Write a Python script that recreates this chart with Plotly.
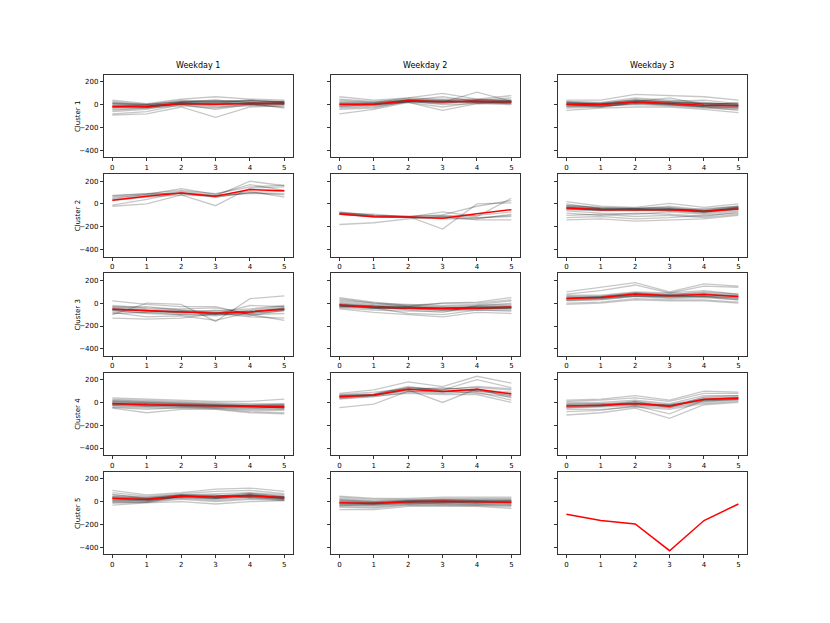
import plotly.graph_objects as go

x_vals = [0, 1, 2, 3, 4, 5]
weekday_labels = ["Weekday 1", "Weekday 2", "Weekday 3"]
cluster_labels = ["Cluster 1", "Cluster 2", "Cluster 3", "Cluster 4", "Cluster 5"]
y_tick_vals = [-400, -200, 0, 200]

# ---- Cluster 1 ----
w1_c1_lines = [
    [-90, -80, -20, -110, -20, -10], [-80, -60, 0, -40, 0, 0], [40, 10, 50, 70, 50, 40],
    [30, 0, 40, 30, 40, 30], [-60, -40, 10, 20, 10, 20], [-40, -30, 20, 40, 20, 10],
    [20, -10, 30, 20, 40, 20], [10, -20, 10, 10, 10, 10], [0, -10, 0, 0, 20, 30],
    [-20, -20, 10, -10, 0, -20], [-30, -20, 20, 10, 30, 20], [-10, 0, 0, -20, -10, 0],
    [-50, -30, -10, -30, 10, -30], [10, 0, 30, 40, 20, 20], [-20, -10, 20, 30, 0, 10],
    [-5, -25, 5, 0, 15, 5], [15, 5, 25, 25, 35, 25], [-25, -15, 15, 5, 5, 15],
]
w1_c1_mean = [-15, -15, 10, 5, 10, 10]

w2_c1_lines = [
    [-80, -40, 20, -50, 10, 0], [70, 40, 60, 100, 50, 80], [-40, -30, 30, 20, 110, 30],
    [50, 30, 50, 40, 40, 60], [30, 20, 40, 30, 30, 40], [20, 10, 40, 20, 30, 20],
    [-10, 0, 30, 30, 20, 10], [0, 0, 30, 10, 40, 30], [10, 10, 40, 70, 30, 20],
    [-20, -10, 20, -20, 20, 10], [-30, -20, 30, 0, 10, 20], [40, 20, 60, 50, 50, 40],
    [-5, 5, 35, 25, 35, 25], [15, 15, 45, 35, 45, 35], [-15, 0, 25, 15, 25, 15],
    [5, -5, 35, 40, 15, 30],
]
w2_c1_mean = [5, 5, 35, 25, 30, 25]

w3_c1_lines = [
    [-50, -30, -20, -20, -40, -70], [40, 40, 90, 80, 70, 40], [30, 20, 60, 40, 20, 0],
    [20, 10, 40, 30, 10, 10], [10, 0, 30, 20, 0, -10], [0, -10, 20, 10, -10, -20],
    [-10, -20, 10, 0, -20, -30], [-20, -10, 0, -10, -30, -40], [-30, -20, 20, 0, -20, -50],
    [10, 10, 50, 30, 40, 10], [20, 0, 30, 60, 0, -10], [-5, -5, 15, 5, -15, -20],
    [5, 5, 25, 15, 5, 0], [15, 5, 35, 25, 10, -5], [0, -15, 10, -5, -20, -30],
    [-15, 0, 20, 10, -5, 20], [25, 15, 40, 20, 15, 5],
]
w3_c1_mean = [5, 0, 25, 10, -5, -10]

# ---- Cluster 2 ----
w1_c2_lines = [
    [75, 90, 120, 90, 150, 165], [60, 80, 100, 70, 200, 160], [-20, 0, 80, -15, 140, 150],
    [-10, 40, 100, 60, 100, 110], [50, 85, 135, 85, 170, 120], [70, 90, 90, 60, 100, 80],
    [30, 60, 80, 70, 110, 60], [40, 70, 110, 75, 90, 90],
]
w1_c2_mean = [32, 68, 97, 68, 126, 115]

w2_c2_lines = [
    [-180, -165, -130, -110, -100, -70], [-70, -100, -110, -220, 0, 10],
    [-80, -90, -115, -70, -110, 50], [-90, -110, -120, -110, -140, -140],
    [-75, -100, -110, -100, -120, -110], [-85, -110, -115, -130, -130, -90],
    [-80, -105, -110, -95, -20, 30], [-90, -115, -120, -120, -125, -100],
]
w2_c2_mean = [-88, -112, -115, -126, -85, -50]

w3_c2_lines = [
    [20, -20, -30, 5, -30, 0], [-140, -130, -150, -140, -130, -100],
    [-120, -110, -130, -120, -100, -80], [-100, -90, -110, -100, -120, -90],
    [-10, -30, -40, -20, -50, -20], [-20, -40, -40, -30, -60, -30],
    [-30, -45, -50, -40, -70, -40], [-40, -50, -50, -50, -60, -40],
    [-25, -40, -45, -45, -65, -35], [-35, -55, -45, -55, -70, -45],
    [-50, -60, -60, -60, -80, -50], [-60, -80, -90, -70, -90, -60],
    [-80, -100, -80, -90, -110, -70], [-15, -35, -35, -35, -55, -25],
    [-30, -50, -55, -50, -75, -35], [0, -40, -50, -60, -40, -20],
    [-45, -55, -40, -45, -60, -45], [-40, -45, -55, -40, -65, -30],
]
w3_c2_mean = [-35, -50, -50, -50, -65, -44]

# ---- Cluster 3 ----
w1_c3_lines = [
    [20, -10, -30, -30, -100, -150], [-130, -140, -130, -90, -120, -130],
    [-100, 0, -10, -160, 40, 65], [-80, -120, -110, -150, -80, -40],
    [-60, -90, -100, -100, -90, -60], [-50, -70, -80, -80, -70, -50],
    [-40, -60, -70, -90, -60, -30], [-30, -50, -60, -70, -50, -20],
    [-60, -60, -90, -60, -100, -90], [-20, -40, -50, -40, -90, -70],
    [-90, -80, -100, -110, -80, -50], [-70, -80, -70, -100, -70, -40],
    [-45, -65, -75, -85, -75, -55], [-55, -70, -80, -95, -20, -30],
    [-35, -30, -60, -80, -110, -60],
]
w1_c3_mean = [-53, -65, -76, -88, -76, -53]

w2_c3_lines = [
    [50, 10, -20, 0, 10, 50], [-50, -80, -100, -120, -80, -90], [30, 0, -10, -20, -10, 20],
    [20, -10, -20, -30, -20, 0], [10, -20, -30, -40, -30, -20], [0, -30, -40, -50, -40, -30],
    [-10, -35, -40, -45, -40, -35], [-20, -40, -45, -55, -45, -40], [-30, -50, -50, -60, -50, -50],
    [-40, -60, -70, -70, -60, -60], [-20, -40, -90, -100, -60, -70], [-15, -30, -35, -45, -35, -30],
    [-25, -45, -45, -50, -50, -45], [-5, -25, -35, -40, -30, -25], [-35, -20, -60, -80, -20, -10],
    [-10, -40, -50, -60, -50, -40], [-30, -30, -35, -35, -45, -40], [40, 0, -30, 0, 0, 30],
]
w2_c3_mean = [-15, -35, -41, -47, -41, -35]

w3_c3_lines = [
    [100, 140, 180, 100, 170, 150], [80, 110, 160, 90, 150, 140], [-10, 0, 30, 20, 20, 0],
    [0, 10, 40, 30, 30, 10], [20, 30, 60, 40, 50, 30], [30, 40, 70, 50, 60, 50],
    [40, 50, 80, 60, 70, 60], [50, 55, 85, 70, 80, 65], [60, 60, 90, 80, 90, 70],
    [70, 70, 100, 90, 110, 80], [35, 45, 65, 55, 65, 45], [45, 55, 75, 70, 85, 55],
    [25, 35, 60, 60, 55, 40], [55, 45, 70, 65, 60, 30], [40, 60, 90, 75, 100, 80],
]
w3_c3_mean = [41, 50, 80, 65, 76, 59]

# ---- Cluster 4 ----
w1_c4_lines = [
    [40, 30, 20, 10, 10, 30], [-50, -90, -60, -60, -90, -100], [30, 20, 10, 0, -10, -10],
    [20, 10, 0, -10, -20, -20], [10, 0, -10, -20, -30, -30], [0, -10, -20, -25, -35, -35],
    [-10, -20, -25, -30, -40, -40], [-20, -30, -30, -35, -45, -45], [-30, -40, -40, -40, -50, -55],
    [-40, -50, -50, -50, -70, -70], [-5, -15, -20, -30, -35, -30], [-15, -25, -30, -25, -40, -45],
    [-25, -35, -35, -45, -60, -60], [5, -5, -15, -20, -30, -25], [-45, -60, -45, -55, -80, -90],
    [15, 5, -5, -15, -25, -15], [-10, -30, -20, -30, -30, -50], [-20, -10, -30, -40, -50, -40],
]
w1_c4_mean = [-9, -20, -24, -29, -38, -38]

w2_c4_lines = [
    [80, 110, 180, 140, 230, 170], [70, 90, 120, 110, 200, 130], [-45, -15, 100, 90, 110, 60],
    [60, 70, 130, 120, 130, 110], [50, 60, 120, 100, 110, 90], [40, 60, 110, 0, 120, 40],
    [30, 50, 90, 80, 90, 20], [55, 70, 130, 110, 140, 120], [45, 65, 100, 95, 100, 60],
    [65, 75, 140, 100, 80, 50], [35, 55, 80, 70, 70, 0], [60, 65, 110, 130, 100, 80],
]
w2_c4_mean = [50, 65, 115, 97, 115, 74]

w3_c4_lines = [
    [-110, -90, -50, -140, -20, 0], [20, 30, 60, 20, 100, 90], [10, 20, 40, 10, 80, 80],
    [0, 0, 20, -10, 60, 60], [-10, -10, 10, -20, 40, 50], [-20, -20, 0, -30, 30, 40],
    [-30, -25, -10, -30, 20, 35], [-40, -30, -20, -40, 10, 30], [-50, -40, -30, -50, 0, 20],
    [-60, -60, -40, -60, -10, 10], [-80, -70, -30, -100, 20, 30], [-35, -20, -5, -25, 30, 45],
    [-25, -30, -15, -35, 25, 40], [-45, -35, 10, -45, 50, 60], [-15, -10, -20, -20, 15, 25],
]
w3_c4_mean = [-32, -24, -9, -32, 29, 38]

# ---- Cluster 5 ----
w1_c5_lines = [
    [100, 60, 80, 110, 120, 90], [-30, -10, 0, -20, 0, 10], [80, 50, 70, 90, 100, 70],
    [60, 40, 60, 70, 80, 60], [50, 30, 60, 50, 70, 50], [40, 25, 55, 45, 60, 40],
    [30, 20, 50, 40, 55, 35], [20, 10, 45, 30, 50, 30], [10, 5, 40, 20, 40, 20],
    [0, 0, 30, 10, 30, 15], [-10, -5, 20, 0, 20, 10], [35, 25, 50, 35, 60, 40],
    [25, 15, 45, 45, 50, 30], [45, 35, 60, 60, 45, 45], [15, 20, 35, 25, 65, 25],
    [5, 10, 55, 30, 40, 35], [-10, -5, 50, 55, 35, 20], [65, 30, 40, 50, 75, 45],
]
w1_c5_mean = [30, 20, 50, 40, 55, 35]

w2_c5_lines = [
    [50, 30, 30, 40, 40, 40], [-70, -70, -40, -40, -40, -60], [40, 20, 20, 30, 30, 30],
    [30, 10, 15, 20, 20, 20], [20, 0, 10, 15, 10, 10], [10, -5, 5, 10, 5, 5],
    [0, -10, 0, 5, 0, 0], [-10, -15, -5, 0, -5, -5], [-20, -25, -10, -5, -10, -15],
    [-30, -35, -20, -15, -20, -25], [-40, -45, -25, -25, -30, -35], [-50, -55, -30, -30, -35, -45],
    [-5, -20, 5, 10, 10, -10], [-15, -10, -5, 0, -15, 0], [-25, -30, -15, -10, -5, -20],
    [15, 0, 10, 20, 15, 15], [-35, -20, -10, -20, -25, -30], [5, -10, 0, -5, 5, 10],
]
w2_c5_mean = [-10, -15, 0, 5, 0, -5]

w3_c5_lines = []
w3_c5_mean = [-110, -165, -195, -430, -165, -20]

panels = [
    [(w1_c1_lines, w1_c1_mean), (w2_c1_lines, w2_c1_mean), (w3_c1_lines, w3_c1_mean)],
    [(w1_c2_lines, w1_c2_mean), (w2_c2_lines, w2_c2_mean), (w3_c2_lines, w3_c2_mean)],
    [(w1_c3_lines, w1_c3_mean), (w2_c3_lines, w2_c3_mean), (w3_c3_lines, w3_c3_mean)],
    [(w1_c4_lines, w1_c4_mean), (w2_c4_lines, w2_c4_mean), (w3_c4_lines, w3_c4_mean)],
    [(w1_c5_lines, w1_c5_mean), (w2_c5_lines, w2_c5_mean), (w3_c5_lines, w3_c5_mean)],
]

# target page is 830x623; the page body has an 8px margin, so the figure is offset
PAGE_W, PAGE_H = 830, 623
OFF = 8
W, H = PAGE_W - OFF, PAGE_H - OFF


def fx(px):
    return (px - OFF) / W


def fy(py):
    return 1 - (py - OFF) / H


left_px, right_px = 0.125 * PAGE_W, 0.9 * PAGE_W
top_px, bottom_px = 0.12 * PAGE_H, 0.89 * PAGE_H
cw = (right_px - left_px) / 3.4
cg = 0.2 * cw
rh = (bottom_px - top_px) / 5.8
rg = 0.2 * rh

all_y = [v for row in panels for (ls, m) in row for l in ls + [m] for v in l]
ymin, ymax = min(all_y), max(all_y)
span = ymax - ymin
y_range = [ymin - 0.05 * span, ymax + 0.05 * span]
x_range = [-0.25, 5.25]

fig = go.Figure()
font = dict(family="DejaVu Sans", size=7, color="black")
layout = dict(
    width=W, height=H, margin=dict(l=0, r=0, t=0, b=0),
    paper_bgcolor="white", plot_bgcolor="white", showlegend=False,
    font=font,
)
annotations = []
idx = 0
for r, row in enumerate(panels):
    for c, (lines, mean) in enumerate(row):
        idx += 1
        xa = "x" if idx == 1 else f"x{idx}"
        ya = "y" if idx == 1 else f"y{idx}"
        for l in lines:
            fig.add_trace(go.Scatter(x=x_vals, y=l, mode="lines", xaxis=xa, yaxis=ya,
                                     line=dict(color="rgba(0,0,0,0.22)", width=1.3),
                                     hoverinfo="skip"))
        fig.add_trace(go.Scatter(x=x_vals, y=mean, mode="lines", xaxis=xa, yaxis=ya,
                                 line=dict(color="red", width=1.5)))
        x0 = left_px + c * (cw + cg)
        yt = top_px + r * (rh + rg)
        ax_common = dict(showline=True, mirror=True, linecolor="#333333", linewidth=0.8,
                         showgrid=False, zeroline=False, ticks="outside", ticklen=3,
                         tickwidth=0.8, tickcolor="#333333", tickfont=font)
        layout["xaxis" if idx == 1 else f"xaxis{idx}"] = dict(
            domain=[fx(x0), fx(x0 + cw)], anchor=ya, range=x_range,
            tickmode="array", tickvals=x_vals, **ax_common)
        layout["yaxis" if idx == 1 else f"yaxis{idx}"] = dict(
            domain=[fy(yt + rh), fy(yt)], anchor=xa, range=y_range,
            tickmode="array", tickvals=y_tick_vals,
            showticklabels=(c == 0), **ax_common)
        if r == 0:
            annotations.append(dict(text=weekday_labels[c], x=fx(x0 + cw / 2), y=fy(yt),
                                    xref="paper", yref="paper", xanchor="center",
                                    yanchor="bottom", yshift=3, showarrow=False,
                                    font=dict(family="DejaVu Sans", size=8, color="black")))
        if c == 0:
            annotations.append(dict(text=cluster_labels[r], x=fx(78), y=fy(yt + rh / 2),
                                    xref="paper", yref="paper", xanchor="center",
                                    yanchor="middle", textangle=-90, showarrow=False,
                                    font=dict(family="DejaVu Sans", size=7, color="black")))
layout["annotations"] = annotations
fig.update_layout(**layout)
fig.write_html("out.html")
